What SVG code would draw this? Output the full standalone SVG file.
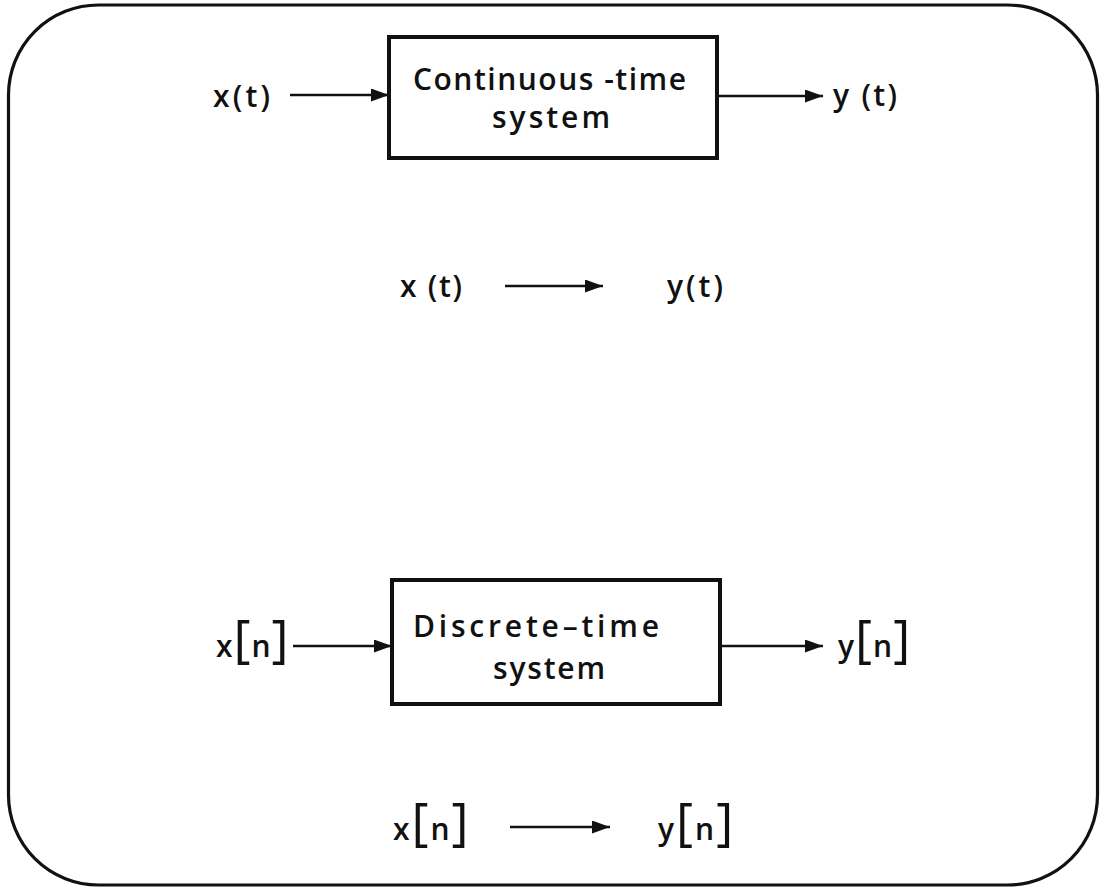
<svg xmlns="http://www.w3.org/2000/svg" width="1105" height="888" viewBox="0 0 1105 888">
<style>
  .t { font-family: "Open Sans", "DejaVu Sans", sans-serif; font-weight: 600; font-size: 30px; fill: #111; }
  .br { font-size: 52px; font-weight: 400; }
  .box { fill: none; stroke: #111; stroke-width: 4; }
  .wire { fill: none; stroke: #111; stroke-width: 2.5; }
  .frame { fill: #fff; stroke: #111; stroke-width: 3.2; }
</style>
<defs>
  <marker id="ah" markerWidth="18" markerHeight="13" refX="18" refY="6.5" orient="auto" markerUnits="userSpaceOnUse">
    <path d="M0,0 L18,6.5 L0,13 Z" fill="#111"/>
  </marker>
</defs>
<rect width="1105" height="888" fill="#fff"/>
<rect id="frame" class="frame" x="8.5" y="5" width="1089" height="880" rx="90" ry="90"/>

<g id="ct-system">
  <rect class="box" x="389" y="37" width="328" height="121"/>
  <text class="t" x="413" y="90" textLength="273" lengthAdjust="spacing">Continuous -time</text>
  <text class="t" x="492" y="128" textLength="118" lengthAdjust="spacing">system</text>
</g>
<g id="ct-in"><text class="t" x="213" y="107" textLength="57" lengthAdjust="spacing">x(t)</text></g>
<g id="ct-out"><text class="t" x="833" y="106" textLength="64" lengthAdjust="spacing">y (t)</text></g>

<g id="ct-map-x"><text class="t" x="400" y="297" textLength="62" lengthAdjust="spacing">x (t)</text></g>
<g id="ct-map-y"><text class="t" x="667" y="297" textLength="56" lengthAdjust="spacing">y(t)</text></g>

<g id="dt-system">
  <rect class="box" x="392" y="580" width="328" height="124"/>
  <text class="t" x="413" y="637" textLength="246" lengthAdjust="spacing">Discrete–time</text>
  <text class="t" x="493" y="679" textLength="112" lengthAdjust="spacing">system</text>
</g>
<g id="dt-in"><text class="t" x="216" y="657">x<tspan class="br" dx="1">[</tspan><tspan dx="1">n</tspan><tspan class="br" dx="1">]</tspan></text></g>
<g id="dt-out"><text class="t" x="838" y="657">y<tspan class="br" dx="1">[</tspan><tspan dx="1">n</tspan><tspan class="br" dx="1">]</tspan></text></g>

<g id="dt-map-x"><text class="t" x="393" y="840">x<tspan class="br" dx="2">[</tspan><tspan dx="2">n</tspan><tspan class="br" dx="2">]</tspan></text></g>
<g id="dt-map-y"><text class="t" x="658" y="840">y<tspan class="br" dx="2">[</tspan><tspan dx="2">n</tspan><tspan class="br" dx="2">]</tspan></text></g>

<g id="connectors">
  <line class="wire" x1="290" y1="95" x2="389" y2="95" marker-end="url(#ah)"/>
  <line class="wire" x1="717" y1="96" x2="823" y2="96" marker-end="url(#ah)"/>
  <line class="wire" x1="505" y1="286" x2="603" y2="286" marker-end="url(#ah)"/>
  <line class="wire" x1="293" y1="646" x2="392" y2="646" marker-end="url(#ah)"/>
  <line class="wire" x1="720" y1="646" x2="823" y2="646" marker-end="url(#ah)"/>
  <line class="wire" x1="510" y1="827" x2="610" y2="827" marker-end="url(#ah)"/>
</g>
</svg>
